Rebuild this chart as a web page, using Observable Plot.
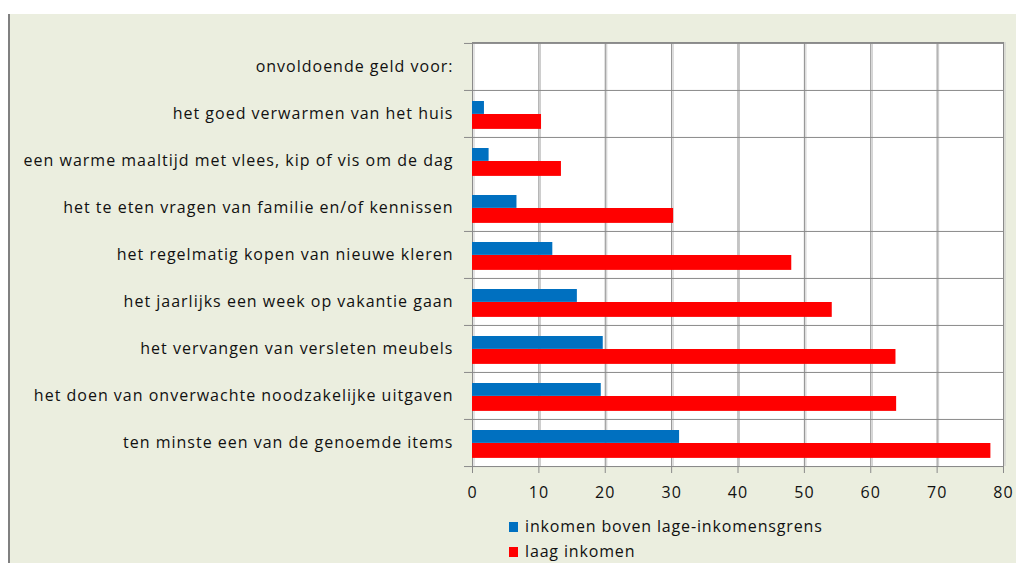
<!DOCTYPE html>
<html>
<head>
<meta charset="utf-8">
<script src="https://cdn.jsdelivr.net/npm/d3@7"></script>
<script src="https://cdn.jsdelivr.net/npm/@observablehq/plot@0.6"></script>
<style>
  html, body { margin: 0; padding: 0; background: #ffffff; }
  #wrap { position: relative; width: 1016px; height: 563px; overflow: hidden; background: #ffffff; font-family: "Open Sans", sans-serif; }
  #panel { position: absolute; left: 8px; top: 14px; width: 1008px; height: 549px; background: #EBEEDF; border-left: 2.5px solid #808080; box-sizing: border-box; }
  #chart { position: absolute; left: 0; top: 0; }
  #legend { position: absolute; left: 509px; top: 514px; font-size: 16px; color: #111; line-height: 25px; letter-spacing: 0.85px; }
  .item { display: flex; align-items: center; white-space: nowrap; }
  .sw { display: inline-block; width: 9px; height: 10px; margin-right: 7px; }
  svg g[aria-label="x-axis tick"] path { stroke: #8a8a8a; }
  svg g[aria-label="y-axis tick label"] text, svg g[aria-label="x-axis tick label"] text { letter-spacing: 1px; }
</style>
</head>
<body>
<div id="wrap">
  <div id="panel"></div>
  <div id="chart"></div>
  <div id="legend"></div>
</div>
<script>
// ---- data ----
const categories = [
  "onvoldoende geld voor:",
  "het goed verwarmen van het huis",
  "een warme maaltijd met vlees, kip of vis om de dag",
  "het te eten vragen van familie en/of kennissen",
  "het regelmatig kopen van nieuwe kleren",
  "het jaarlijks een week op vakantie gaan",
  "het vervangen van versleten meubels",
  "het doen van onverwachte noodzakelijke uitgaven",
  "ten minste een van de genoemde items"
];
const itemCategories = categories.slice(1);
const bovenValues = [1.8, 2.5, 6.7, 12.1, 15.8, 19.7, 19.4, 31.2];
const laagValues = [10.4, 13.4, 30.3, 48.1, 54.2, 63.8, 63.9, 78.1];
const seriesNames = ["inkomen boven lage-inkomensgrens", "laag inkomen"];
const seriesColors = ["#0070C0", "#FF0000"];
const xTicks = [0, 10, 20, 30, 40, 50, 60, 70, 80];
// row separators (top edge of each listed row); one separator is absent in the original
const rowLines = categories.filter(c => c !== "het te eten vragen van familie en/of kennissen");

const rows = itemCategories.map((c, i) => ({cat: c, boven: bovenValues[i], laag: laagValues[i]}));

const W = 1016, H = 505, mT = 42, mB = 39, mL = 472, mR = 13;
const bw = (H - mT - mB) / categories.length;
const grid = "#8a8a8a";

const chart = Plot.plot({
  width: W, height: H,
  marginTop: mT, marginBottom: mB, marginLeft: mL, marginRight: mR,
  style: {background: "transparent", fontFamily: "Open Sans", fontSize: "16px", color: "#111", overflow: "visible"},
  x: {domain: [0, 80]},
  y: {domain: categories, padding: 0},
  marks: [
    Plot.frame({fill: "white", stroke: null}),
    Plot.gridX(xTicks, {stroke: "#c8c8c8", strokeOpacity: 1, dx: 1.5}),
    Plot.gridX(xTicks, {stroke: grid, strokeOpacity: 1}),
    Plot.ruleY(rowLines, {y: d => d, dy: -bw / 2, stroke: grid, insetLeft: -8}),
    Plot.ruleY([categories[categories.length - 1]], {y: d => d, dy: bw / 2, stroke: grid, insetLeft: -8}),
    Plot.frame({stroke: grid}),
    Plot.barX(rows, {x: "boven", y: "cat", fill: seriesColors[0], insetTop: 11, insetBottom: bw - 24}),
    Plot.barX(rows, {x: "laag", y: "cat", fill: seriesColors[1], insetTop: 24, insetBottom: bw - 39}),
    Plot.axisX(xTicks, {tickSize: 7, tickPadding: 13, fontSize: 16, label: null}),
    Plot.axisY({tickSize: 0, tickPadding: 19, fontSize: 16, label: null})
  ]
});
document.getElementById("chart").appendChild(chart);

const legend = document.getElementById("legend");
seriesNames.forEach((name, i) => {
  const row = document.createElement("div");
  row.className = "item";
  const sw = document.createElement("span");
  sw.className = "sw";
  sw.style.background = seriesColors[i];
  const t = document.createElement("span");
  t.textContent = name;
  row.appendChild(sw);
  row.appendChild(t);
  legend.appendChild(row);
});
</script>
</body>
</html>
